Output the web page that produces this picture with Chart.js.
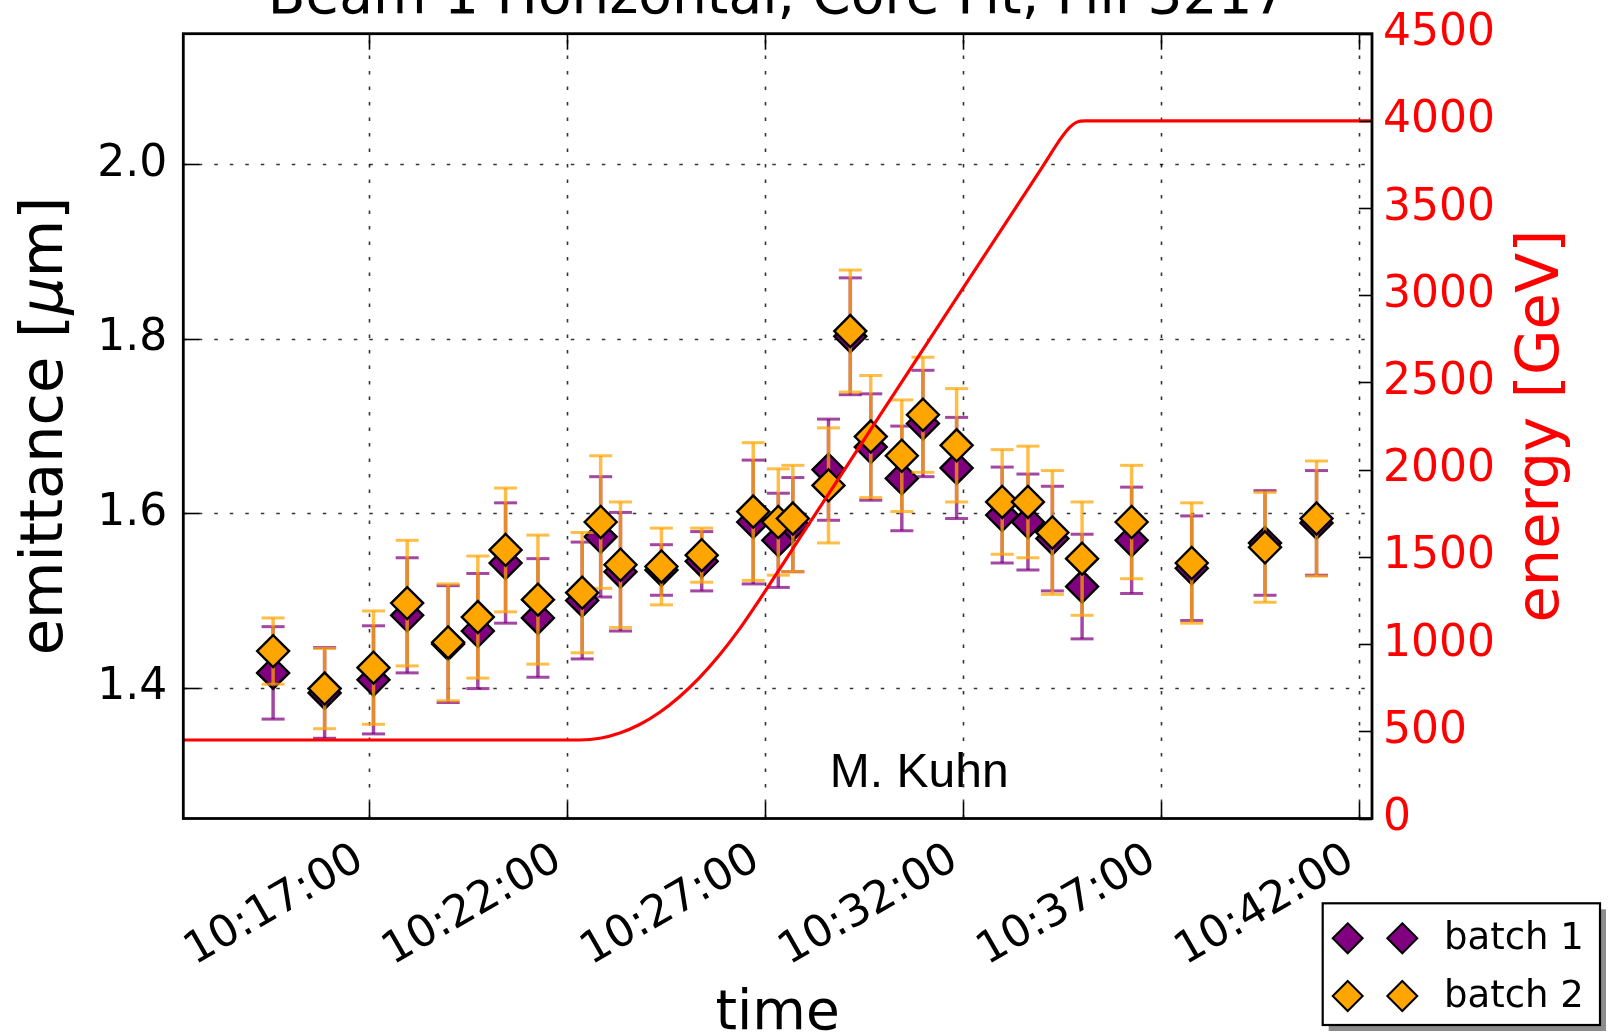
<!DOCTYPE html>
<html>
<head>
<meta charset="utf-8">
<title>Beam 1 Horizontal, Core Fit, Fill 3217</title>
<script src="https://cdn.jsdelivr.net/npm/chart.js@4.4.1/dist/chart.umd.min.js"></script>
<style>
  html, body { margin: 0; padding: 0; background: #ffffff; }
  #wrap { width: 1609px; height: 1033px; position: relative; }
</style>
</head>
<body>
<div id="wrap"><canvas id="c" width="1609" height="1033"></canvas></div>
<script>
// ---- data ----------------------------------------------------------------
const chartTitle = 'Beam 1 Horizontal, Core Fit, Fill 3217';
const author = 'M. Kuhn';

const times = ['10:14:35','10:15:53','10:17:07','10:17:58','10:19:00','10:19:45','10:20:27','10:21:16',
               '10:22:23','10:22:51','10:23:21','10:24:23','10:25:24','10:26:42','10:27:20','10:27:42',
               '10:28:36','10:29:09','10:29:40','10:30:27','10:30:59','10:31:50','10:32:59','10:33:38',
               '10:34:15','10:35:00','10:36:15','10:37:46','10:39:37','10:40:55'];

const batch1    = [1.417,1.394,1.409,1.483,1.450,1.465,1.543,1.480,1.500,1.573,1.533,1.535,1.545,1.590,1.569,
                   1.587,1.650,1.803,1.676,1.640,1.703,1.652,1.598,1.590,1.571,1.516,1.569,1.537,1.566,1.589];
const batch1Err = [0.053,0.052,0.062,0.066,0.067,0.066,0.069,0.068,0.067,0.069,0.068,0.029,0.034,0.071,0.054,
                   0.054,0.058,0.067,0.061,0.060,0.061,0.058,0.055,0.055,0.060,0.060,0.061,0.060,0.060,0.060];
const batch2    = [1.442,1.399,1.423,1.497,1.452,1.481,1.558,1.501,1.509,1.590,1.541,1.539,1.552,1.602,1.590,
                   1.594,1.632,1.809,1.688,1.666,1.713,1.678,1.613,1.613,1.578,1.548,1.590,1.543,1.561,1.594];
const batch2Err = [0.038,0.046,0.065,0.072,0.067,0.070,0.071,0.074,0.069,0.076,0.072,0.044,0.031,0.079,0.061,
                   0.061,0.066,0.070,0.070,0.064,0.066,0.065,0.060,0.064,0.071,0.065,0.065,0.069,0.063,0.066];

// beam energy during the ramp
const energyTimes = ['10:12:19','10:22:20','10:22:50','10:23:20','10:23:50','10:24:20','10:24:50','10:25:20',
                     '10:25:50','10:26:20','10:26:45','10:28:00','10:30:00','10:32:00','10:34:00','10:34:30',
                     '10:34:42','10:34:52','10:35:05','10:42:19'];
const energyGeV   = [450,450,460,490,539,608,697,805,933,1080,1218,1652,2347,3042,3737,3911,3966,3993,4000,4000];

const timeTicks      = ['10:17:00','10:22:00','10:27:00','10:32:00','10:37:00','10:42:00'];
const emittanceTicks = [1.4, 1.6, 1.8, 2.0];
const energyTicks    = [0,500,1000,1500,2000,2500,3000,3500,4000,4500];

const timeRange      = ['10:12:19','10:42:19'];
const emittanceRange = [1.25, 2.15];
const energyRange    = [0, 4500];

// ---- helpers -------------------------------------------------------------
const toSec = s => { const [h, m, x] = s.split(':').map(Number); return h * 3600 + m * 60 + x; };
const pad2 = n => String(n).padStart(2, '0');
const fmtTime = v => pad2(Math.floor(v / 3600)) + ':' + pad2(Math.floor(v / 60) % 60) + ':' + pad2(Math.round(v) % 60);

const FONT = '"DejaVu Sans", Verdana, sans-serif';
const PURPLE = '#800080';
const ORANGE = '#FFA500';
const RED = '#FF0000';
const MARKER_R = 16;

const pts = (xs, ys) => xs.map((t, i) => ({ x: toSec(t), y: ys[i] }));

function diamond(ctx, x, y, r, fill) {
  ctx.beginPath();
  ctx.moveTo(x, y - r); ctx.lineTo(x + r, y); ctx.lineTo(x, y + r); ctx.lineTo(x - r, y);
  ctx.closePath();
  ctx.fillStyle = fill; ctx.fill();
  ctx.lineWidth = 2; ctx.strokeStyle = '#000'; ctx.stroke();
}

// no extra label overflow padding: the plot box is fixed
const noPad = s => { s.paddingTop = 0; s.paddingBottom = 0; s.paddingLeft = 0; s.paddingRight = 0; };

// error bars, drawn just before each dataset's markers
const errorBars = {
  id: 'errorBars',
  beforeDatasetDraw(chart, args) {
    const ds = chart.data.datasets[args.index];
    if (!ds.errors) return;
    const ctx = chart.ctx, meta = args.meta, ys = chart.scales[meta.yAxisID];
    ctx.save();
    ctx.globalAlpha = 0.72;
    ctx.strokeStyle = ds.errorColor;
    ds.data.forEach((p, i) => {
      const x = meta.data[i].x;
      const t = ys.getPixelForValue(p.y + ds.errors[i]);
      const b = ys.getPixelForValue(p.y - ds.errors[i]);
      ctx.lineWidth = 3.5;
      ctx.beginPath(); ctx.moveTo(x, t); ctx.lineTo(x, b); ctx.stroke();
      ctx.lineWidth = 3;
      ctx.beginPath(); ctx.moveTo(x - 11.5, t); ctx.lineTo(x + 11.5, t); ctx.stroke();
      ctx.beginPath(); ctx.moveTo(x - 11.5, b); ctx.lineTo(x + 11.5, b); ctx.stroke();
    });
    ctx.restore();
  }
};

// frame, dotted grid, inward ticks, texts and legend
const frame = {
  id: 'frame',
  beforeDraw(chart) {
    const ctx = chart.ctx;
    ctx.save(); ctx.fillStyle = '#fff'; ctx.fillRect(0, 0, chart.width, chart.height); ctx.restore();
  },
  beforeDatasetsDraw(chart) {
    const { ctx, chartArea: a, scales } = chart;
    ctx.save();
    ctx.strokeStyle = 'rgba(0,0,0,0.8)';
    ctx.lineWidth = 1.6;
    ctx.setLineDash([3.5, 12]);
    scales.x.ticks.forEach(t => {
      const x = Math.round(scales.x.getPixelForValue(t.value)) + 0.5;
      ctx.beginPath(); ctx.moveTo(x, a.bottom); ctx.lineTo(x, a.top); ctx.stroke();
    });
    scales.y.ticks.forEach(t => {
      const y = Math.round(scales.y.getPixelForValue(t.value)) + 0.5;
      ctx.beginPath(); ctx.moveTo(a.left, y); ctx.lineTo(a.right, y); ctx.stroke();
    });
    ctx.restore();
  },
  afterDatasetsDraw(chart) {
    const { ctx, chartArea: a, scales } = chart;
    ctx.save();
    ctx.strokeStyle = '#000';
    ctx.lineWidth = 1.6;
    const L = 16;
    scales.x.ticks.forEach(t => {
      const x = Math.round(scales.x.getPixelForValue(t.value)) + 0.5;
      ctx.beginPath(); ctx.moveTo(x, a.bottom); ctx.lineTo(x, a.bottom - L); ctx.stroke();
      ctx.beginPath(); ctx.moveTo(x, a.top); ctx.lineTo(x, a.top + L); ctx.stroke();
    });
    scales.y.ticks.forEach(t => {
      const y = Math.round(scales.y.getPixelForValue(t.value)) + 0.5;
      ctx.beginPath(); ctx.moveTo(a.left, y); ctx.lineTo(a.left + L, y); ctx.stroke();
    });
    scales.y2.ticks.forEach(t => {
      const y = Math.round(scales.y2.getPixelForValue(t.value)) + 0.5;
      ctx.beginPath(); ctx.moveTo(a.right, y); ctx.lineTo(a.right - 13, y); ctx.stroke();
    });
    ctx.lineWidth = 2.8;
    ctx.strokeRect(a.left, a.top, a.right - a.left, a.bottom - a.top);
    ctx.restore();
  },
  afterDraw(chart) {
    const { ctx, chartArea: a, scales } = chart;
    ctx.save();
    ctx.fillStyle = '#000';

    // title (partly above the top edge of the canvas)
    ctx.font = '55px ' + FONT;
    ctx.textAlign = 'center'; ctx.textBaseline = 'alphabetic';
    ctx.fillText(chartTitle, (a.left + a.right) / 2, 13);

    // rotated time labels
    ctx.font = '44px ' + FONT;
    scales.x.ticks.forEach(t => {
      const x = scales.x.getPixelForValue(t.value);
      ctx.save();
      ctx.translate(x - 3, a.bottom + 48);
      ctx.rotate(-Math.PI / 6);
      ctx.textAlign = 'right';
      ctx.fillText(fmtTime(t.value), 0, 0);
      ctx.restore();
    });

    // axis titles
    ctx.font = '55px ' + FONT;
    ctx.textAlign = 'center';
    ctx.fillText('time', (a.left + a.right) / 2, 1029);

    // emittance [μm] with an italic mu
    const midY = (a.top + a.bottom) / 2;
    const up = '59px ' + FONT, it = 'italic 59px ' + FONT;
    const parts = [['emittance [', up], ['μ', it], ['m]', up]];
    let total = 0;
    parts.forEach(p => { ctx.font = p[1]; p.push(ctx.measureText(p[0]).width); total += p[2]; });
    ctx.save();
    ctx.translate(62, midY); ctx.rotate(-Math.PI / 2);
    ctx.textAlign = 'left';
    let cx = -total / 2;
    parts.forEach(p => { ctx.font = p[1]; ctx.fillText(p[0], cx, 0); cx += p[2]; });
    ctx.restore();

    ctx.save();
    ctx.font = up;
    ctx.fillStyle = RED;
    ctx.textAlign = 'center';
    ctx.translate(1558, midY); ctx.rotate(-Math.PI / 2);
    ctx.fillText('energy [GeV]', 0, 0);
    ctx.restore();

    // author note inside the axes
    ctx.font = '48px "Liberation Sans", Arial, sans-serif';
    ctx.textAlign = 'left';
    ctx.fillText(author, scales.x.getPixelForValue(toSec('10:28:38')), scales.y.getPixelForValue(1.2865));

    // legend with shadow
    const bx = 1322.7, by = 903.3, bw = 277.3, bh = 121.7;
    ctx.fillStyle = 'rgba(0,0,0,0.45)';
    ctx.fillRect(bx + 6, by + 6, bw, bh);
    ctx.fillStyle = '#fff';
    ctx.fillRect(bx, by, bw, bh);
    ctx.lineWidth = 2.2; ctx.strokeStyle = '#000';
    ctx.strokeRect(bx, by, bw, bh);
    const items = chart.data.datasets.filter(d => d.errors);
    items.forEach((d, i) => {
      const yy = 938.3 + i * 57.7;
      diamond(ctx, 1347.7, yy, 15, d.backgroundColor);
      diamond(ctx, 1402.3, yy, 15, d.backgroundColor);
      ctx.fillStyle = '#000';
      ctx.font = '37px ' + FONT;
      ctx.textAlign = 'left'; ctx.textBaseline = 'alphabetic';
      ctx.fillText(d.label, 1444, yy + 10.5);
    });
    ctx.restore();
  }
};

new Chart(document.getElementById('c'), {
  type: 'scatter',
  data: {
    datasets: [
      {
        label: 'energy', data: pts(energyTimes, energyGeV), yAxisID: 'y2', order: 0,
        showLine: true, borderColor: RED, borderWidth: 3.2, pointRadius: 0,
        cubicInterpolationMode: 'monotone', fill: false
      },
      {
        label: 'batch 1', data: pts(times, batch1), errors: batch1Err, errorColor: PURPLE,
        yAxisID: 'y', order: 2, pointStyle: 'rectRot', pointRadius: MARKER_R,
        backgroundColor: PURPLE, borderColor: '#000', borderWidth: 2.4
      },
      {
        label: 'batch 2', data: pts(times, batch2), errors: batch2Err, errorColor: ORANGE,
        yAxisID: 'y', order: 1, pointStyle: 'rectRot', pointRadius: MARKER_R,
        backgroundColor: ORANGE, borderColor: '#000', borderWidth: 2.4
      }
    ]
  },
  options: {
    responsive: false,
    animation: false,
    devicePixelRatio: 1,
    events: [],
    layout: { padding: { top: 33.7, left: 0, right: 0, bottom: 0 }, autoPadding: false },
    plugins: { legend: { display: false }, tooltip: { enabled: false }, title: { display: false } },
    scales: {
      x: {
        type: 'linear', position: 'bottom',
        min: toSec(timeRange[0]), max: toSec(timeRange[1]),
        afterBuildTicks: s => { s.ticks = timeTicks.map(t => ({ value: toSec(t) })); },
        afterFit: s => { s.height = 214.5; noPad(s); },
        ticks: { display: false },
        grid: { display: false, drawTicks: false, tickLength: 0 },
        border: { display: false }
      },
      y: {
        type: 'linear', position: 'left',
        min: emittanceRange[0], max: emittanceRange[1],
        afterBuildTicks: s => { s.ticks = emittanceTicks.map(v => ({ value: v })); },
        afterFit: s => { s.width = 183.3; noPad(s); },
        ticks: { color: '#000', font: { family: FONT, size: 44 }, padding: 16, autoSkip: false,
                 callback: v => Number(v).toFixed(1) },
        grid: { display: false, drawTicks: false, tickLength: 0 },
        border: { display: false }
      },
      y2: {
        type: 'linear', position: 'right',
        min: energyRange[0], max: energyRange[1],
        afterBuildTicks: s => { s.ticks = energyTicks.map(v => ({ value: v })); },
        afterFit: s => { s.width = 237; noPad(s); },
        ticks: { color: RED, font: { family: FONT, size: 44 }, padding: 11, autoSkip: false,
                 callback: v => String(v) },
        grid: { display: false, drawTicks: false, tickLength: 0 },
        border: { display: false }
      }
    }
  },
  plugins: [errorBars, frame]
});
</script>
</body>
</html>
